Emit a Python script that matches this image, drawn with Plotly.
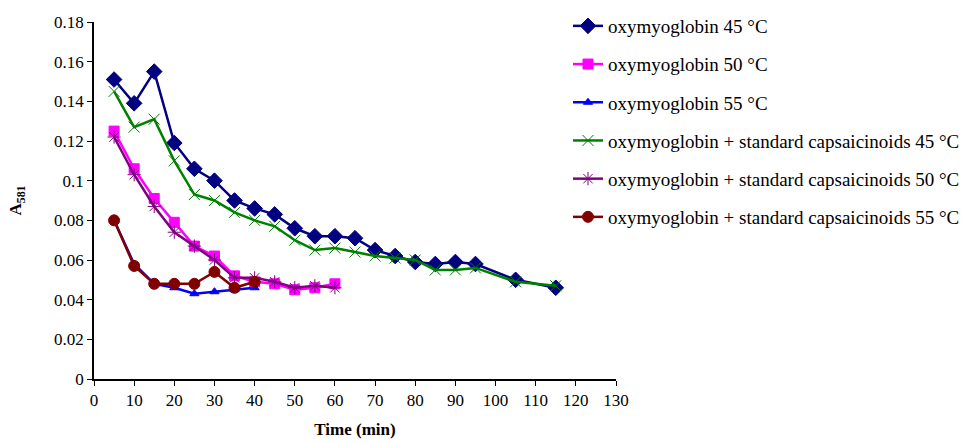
import plotly.graph_objects as go

t45 = [5, 10, 15, 20, 25, 30, 35, 40, 45, 50, 55, 60, 65, 70, 75, 80, 85, 90, 95, 105, 115]
t50 = [5, 10, 15, 20, 25, 30, 35, 40, 45, 50, 55, 60]
t55 = [5, 10, 15, 20, 25, 30, 35, 40]

oxy45 = [0.151, 0.139, 0.155, 0.119, 0.106, 0.100, 0.090, 0.086, 0.083, 0.076, 0.072,
         0.072, 0.071, 0.065, 0.062, 0.059, 0.058, 0.059, 0.058, 0.050, 0.046]
oxy50 = [0.125, 0.106, 0.091, 0.079, 0.067, 0.062, 0.052, 0.049, 0.048, 0.045, 0.046, 0.048]
oxy55 = [0.080, 0.058, 0.048, 0.046, 0.043, 0.044, 0.045, 0.046]
cap45 = [0.145, 0.127, 0.131, 0.110, 0.093, 0.090, 0.084, 0.080, 0.077, 0.070, 0.065,
         0.066, 0.064, 0.062, 0.061, 0.060, 0.055, 0.055, 0.056, 0.049, 0.047]
cap50 = [0.122, 0.103, 0.087, 0.074, 0.067, 0.060, 0.051, 0.051, 0.049, 0.046, 0.047, 0.046]
cap55 = [0.080, 0.057, 0.048, 0.048, 0.048, 0.054, 0.046, 0.049]

names = ["oxymyoglobin 45 °C", "oxymyoglobin 50 °C", "oxymyoglobin 55 °C",
         "oxymyoglobin + standard capsaicinoids 45 °C",
         "oxymyoglobin + standard capsaicinoids 50 °C",
         "oxymyoglobin + standard capsaicinoids 55 °C"]

series = [
    (t45, oxy45, "#000080", "diamond", 12),
    (t50, oxy50, "#FF00FF", "square", 10),
    (t55, oxy55, "#0000FF", "triangle-up", 8),
    (t45, cap45, "#008000", "x-thin-open", 11),
    (t50, cap50, "#800080", "asterisk-open", 11),
    (t55, cap55, "#800000", "circle", 11),
]

fig = go.Figure()
for i, (x, y, c, sym, sz) in enumerate(series):
    fig.add_trace(go.Scatter(
        x=x, y=y, name=names[i], mode="lines+markers", legendgroup=str(i),
        line=dict(color=c, width=2.5),
        marker=dict(symbol=sym, size=sz, color=c, line=dict(color=c, width=1)),
    ))

font = "Liberation Serif, Times New Roman, serif"
fig.update_layout(
    width=973, height=443,
    margin=dict(l=94, r=357, t=22, b=64, autoexpand=False),
    plot_bgcolor="white", paper_bgcolor="white",
    font=dict(family=font, size=17, color="black"),
    showlegend=True,
    legend=dict(x=(568 - 94) / 522, xref="paper", xanchor="left",
                y=1.042, yanchor="top", maxheight=440,
                font=dict(family=font, size=19, color="black"),
                itemwidth=30, tracegroupgap=10.5, bgcolor="rgba(0,0,0,0)"),
    xaxis=dict(range=[0, 130], tickmode="linear", tick0=0, dtick=10,
               showgrid=False, zeroline=False, showline=True, linecolor="black",
               linewidth=1.5, ticks="outside", ticklen=5, tickcolor="black",
               title=dict(text="<b>Time (min)</b>", font=dict(size=17), standoff=14)),
    yaxis=dict(range=[0, 0.18], tickmode="linear", tick0=0, dtick=0.02,
               showgrid=False, zeroline=False, showline=True, linecolor="black",
               linewidth=1.5, ticks="outside", ticklen=5, tickcolor="black",
               tickformat="~g",
               title=dict(text="<b>A<sub>581</sub></b>", font=dict(size=17), standoff=28)),
)

fig.write_html("out.html")
